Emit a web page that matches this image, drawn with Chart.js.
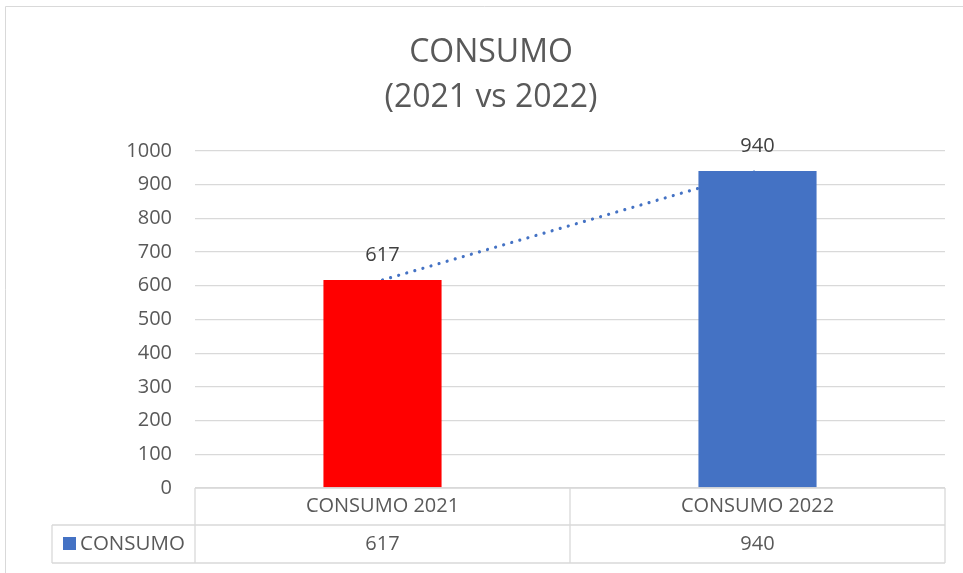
<!DOCTYPE html>
<html>
<head>
<meta charset="utf-8">
<script src="https://cdn.jsdelivr.net/npm/chart.js@4.4.0/dist/chart.umd.min.js"></script>
<style>
  html, body { margin: 0; padding: 0; background: #fff; }
  canvas { display: block; }
</style>
</head>
<body>
<canvas id="consumoChart" width="963" height="573"></canvas>
<script>
const categories = ['CONSUMO 2021', 'CONSUMO 2022'];
const consumo = [617, 940];
const barColors = ['#FF0000', '#4472C4'];
const seriesName = 'CONSUMO';
const titleLines = ['CONSUMO', '(2021 vs 2022)'];
const yMin = 0;
const yMax = 1000;
const yStep = 100;

const FONT = "'Open Sans', Lato, sans-serif";
const TEXT = '#595959';
const GRID = '#d9d9d9';

// linear trendline through the series (least squares)
function linearTrend(values) {
  const n = values.length;
  let sx = 0, sy = 0, sxy = 0, sxx = 0;
  values.forEach((v, i) => { sx += i; sy += v; sxy += i * v; sxx += i * i; });
  const slope = (n * sxy - sx * sy) / (n * sxx - sx * sx);
  const icept = (sy - slope * sx) / n;
  return values.map((v, i) => icept + slope * i);
}

//CHART BORDER
const chartBorder = {
  id: 'chartBorder',
  beforeDraw(chart) {
    const ctx = chart.ctx;
    ctx.save();
    ctx.strokeStyle = GRID;
    ctx.lineWidth = 1;
    ctx.beginPath();
    ctx.moveTo(5.5, chart.height);
    ctx.lineTo(5.5, 6.5);
    ctx.lineTo(chart.width, 6.5);
    ctx.stroke();
    ctx.restore();
  }
};

//VALUE LABELS ABOVE BARS
const barLabels = {
  id: 'barLabels',
  afterDatasetsDraw(chart) {
    const ctx = chart.ctx;
    const meta = chart.getDatasetMeta(0);
    ctx.save();
    ctx.font = '20px ' + FONT;
    ctx.fillStyle = '#404040';
    ctx.textAlign = 'center';
    ctx.textBaseline = 'middle';
    meta.data.forEach((bar, i) => {
      ctx.fillText(String(consumo[i]), bar.x, bar.y - 25);
    });
    ctx.restore();
  }
};

//DATA TABLE UNDER THE PLOT
const dataTable = {
  id: 'dataTable',
  afterDraw(chart) {
    const ctx = chart.ctx;
    const area = chart.chartArea;
    const xs = chart.scales.x;
    const colW = (area.right - area.left) / categories.length;
    const top = area.bottom;
    const mid = top + 37;
    const bot = mid + 38;
    const legendLeft = 52;

    ctx.save();
    ctx.strokeStyle = GRID;
    ctx.lineWidth = 1.3;
    ctx.beginPath();
    ctx.moveTo(area.left, top); ctx.lineTo(area.right, top);
    ctx.moveTo(legendLeft, mid); ctx.lineTo(area.right, mid);
    ctx.moveTo(legendLeft, bot); ctx.lineTo(area.right, bot);
    ctx.moveTo(legendLeft, mid); ctx.lineTo(legendLeft, bot);
    for (let i = 0; i <= categories.length; i++) {
      const x = area.left + colW * i;
      ctx.moveTo(x, top); ctx.lineTo(x, bot);
    }
    ctx.stroke();

    ctx.font = '20px ' + FONT;
    ctx.fillStyle = TEXT;
    ctx.textAlign = 'center';
    ctx.textBaseline = 'middle';
    categories.forEach((c, i) => {
      const x = xs.getPixelForValue(i);
      ctx.fillText(c, x, (top + mid) / 2);
      ctx.fillText(String(consumo[i]), x, (mid + bot) / 2);
    });

    ctx.fillStyle = '#4472C4';
    ctx.fillRect(63, (mid + bot) / 2 - 7, 13, 13);
    ctx.fillStyle = TEXT;
    ctx.textAlign = 'left';
    ctx.font = '20.5px ' + FONT;
    ctx.fillText(seriesName, 80, (mid + bot) / 2);
    ctx.restore();
  }
};

const ctx = document.getElementById('consumoChart').getContext('2d');

const consumoChart = new Chart(ctx, {
  data: {
    labels: categories,
    datasets: [
      {
        type: 'bar',
        label: seriesName,
        data: consumo,
        backgroundColor: barColors,
        categoryPercentage: 1,
        barPercentage: 0.315,
        order: 1
      },
      {
        type: 'line',
        label: 'Lineal (' + seriesName + ')',
        data: linearTrend(consumo),
        borderColor: '#4472C4',
        borderWidth: 3.2,
        borderDash: [0.01, 8.4],
        borderCapStyle: 'round',
        pointRadius: 0,
        fill: false,
        order: 2
      }
    ]
  },
  options: {
    responsive: false,
    animation: false,
    layout: {
      padding: { left: 37, right: 18, top: 0, bottom: 85 }
    },
    plugins: {
      legend: { display: false },
      tooltip: { enabled: false },
      title: {
        display: true,
        text: titleLines,
        color: TEXT,
        font: { family: FONT, size: 32, weight: 'normal', lineHeight: 1.42 },
        padding: { top: 30, bottom: 30 }
      }
    },
    scales: {
      x: {
        display: false
      },
      y: {
        min: yMin,
        max: yMax,
        afterFit(scale) { scale.width = 158; },
        border: { display: false },
        grid: { color: GRID, lineWidth: 1.3, drawTicks: false },
        ticks: {
          stepSize: yStep,
          padding: 23,
          color: TEXT,
          font: { family: FONT, size: 20 },
          callback: v => String(v)
        }
      }
    }
  },
  plugins: [chartBorder, barLabels, dataTable]
});
</script>
</body>
</html>
